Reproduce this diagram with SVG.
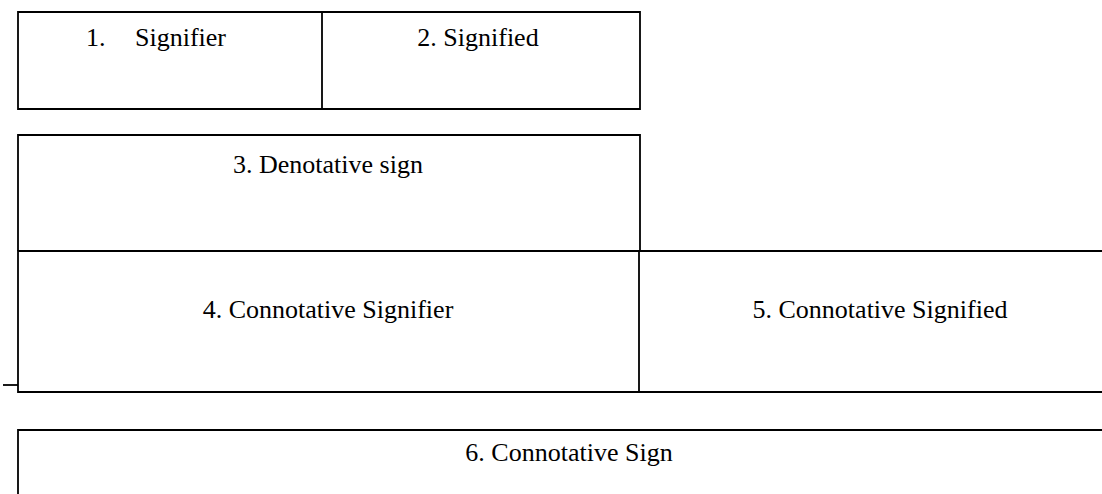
<svg xmlns="http://www.w3.org/2000/svg" width="1102" height="494" viewBox="0 0 1102 494">
<style>
.ln{stroke:#000;stroke-width:1.8;fill:none}
.t{font-family:"Liberation Serif","Times New Roman",serif;font-size:26px;fill:#000}
</style>
<rect width="1102" height="494" fill="#fff"/>
<g id="n1">
<path class="ln" d="M18,12 H322 V109 H18 Z"/>
<text class="t" x="86" y="46">1.</text>
<text class="t" x="135" y="46">Signifier</text>
</g>
<g id="n2">
<path class="ln" d="M322,12 H640 V109 H322"/>
<text class="t" x="478" y="46" text-anchor="middle">2. Signified</text>
</g>
<g id="n3">
<path class="ln" d="M18,251 V135 H640 V251"/>
<text class="t" x="328" y="173" text-anchor="middle">3. Denotative sign</text>
</g>
<g id="n4">
<path class="ln" d="M18,251 H639 V392 H18 Z"/>
<path class="ln" d="M3,385 H18"/>
<text class="t" x="328" y="318" text-anchor="middle">4. Connotative Signifier</text>
</g>
<g id="n5">
<path class="ln" d="M639,251 H1102 M639,392 H1102"/>
<text class="t" x="880" y="318" text-anchor="middle">5. Connotative Signified</text>
</g>
<g id="n6">
<path class="ln" d="M18,500 V430 H1102"/>
<text class="t" x="569" y="461" text-anchor="middle">6. Connotative Sign</text>
</g>
<g id="connectors"></g>
</svg>
